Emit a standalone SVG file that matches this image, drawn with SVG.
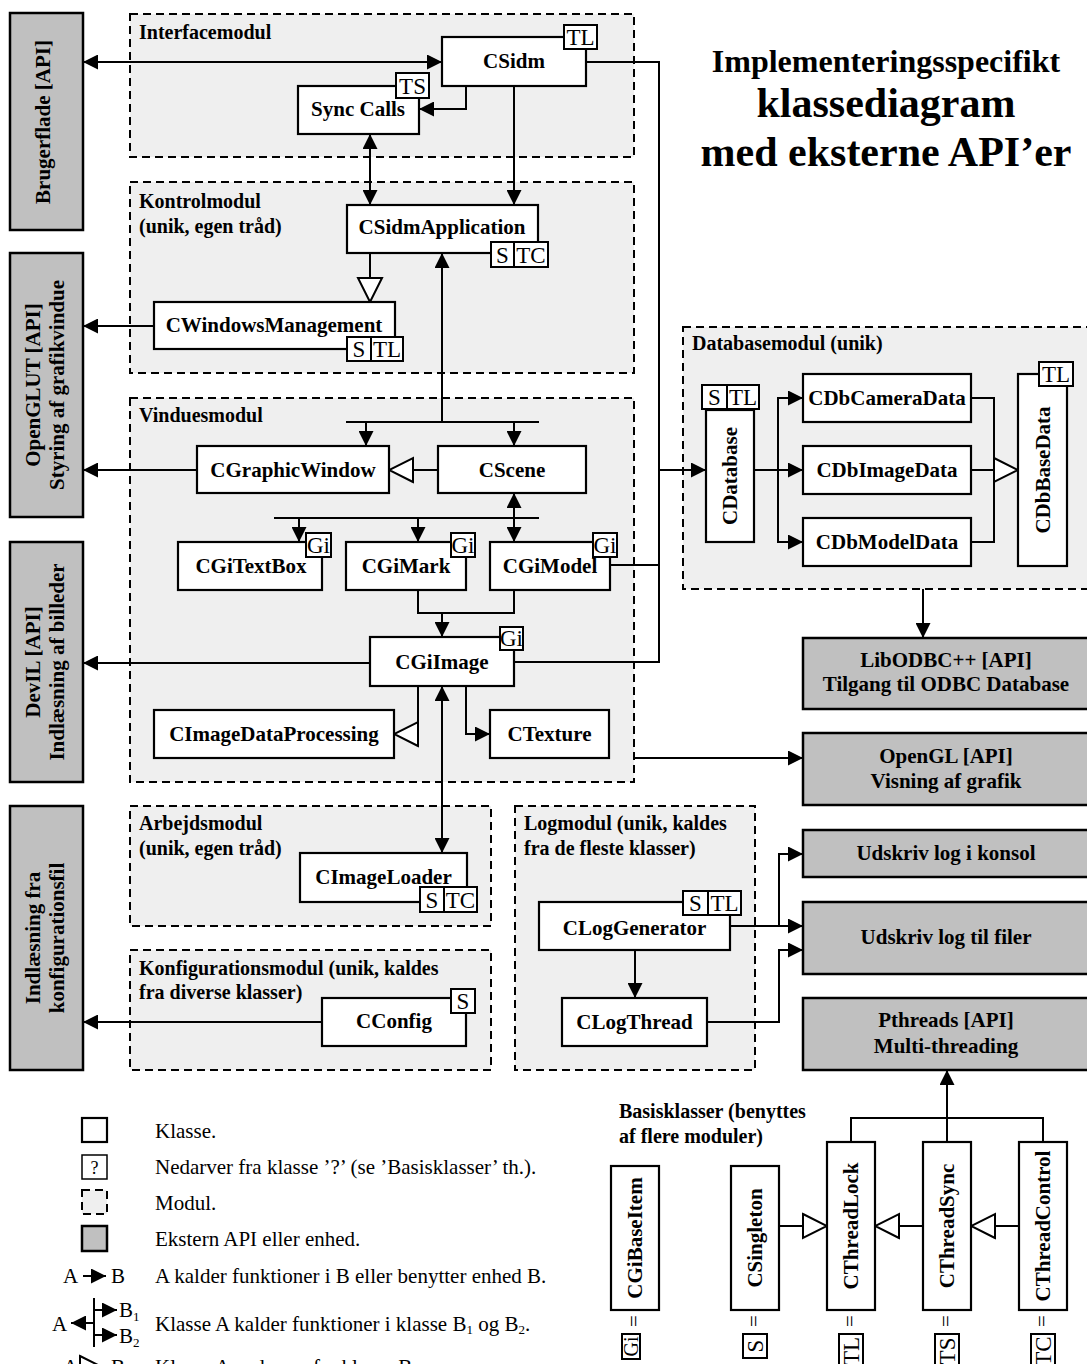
<svg xmlns="http://www.w3.org/2000/svg" width="1087" height="1364" viewBox="0 0 1087 1364">
<style>
.mod{fill:#efefef;stroke:#000;stroke-width:2;stroke-dasharray:8 5}
.cls{fill:#fff;stroke:#000;stroke-width:2.2}
.api{fill:#c0c0c0;stroke:#000;stroke-width:2.5}
.tag{fill:#fff;stroke:#000;stroke-width:2}
.ln{fill:none;stroke:#000;stroke-width:2}
text{font-family:"Liberation Serif","Times New Roman",serif;fill:#000}
.b{font-weight:bold;font-size:21px}
.mt{font-weight:bold;font-size:20px}
.r{font-size:21px}
.t{font-size:23px}
.c{text-anchor:middle}
</style>
<defs>
<marker id="ah" viewBox="0 0 15 15" refX="15" refY="7.5" markerWidth="15" markerHeight="15" markerUnits="userSpaceOnUse" orient="auto-start-reverse"><path d="M0,0 L15,7.5 L0,15 z" fill="#000"/></marker>
<marker id="tri" viewBox="-2 -2 28 28" refX="24" refY="12" markerWidth="28" markerHeight="28" markerUnits="userSpaceOnUse" orient="auto"><path d="M0,0 L24,12 L0,24 z" fill="#fff" stroke="#000" stroke-width="2"/></marker>
</defs>
<rect width="1087" height="1364" fill="#fff"/>

<g id="modules">
<g id="mod-interface"><rect class="mod" x="130" y="14" width="504" height="143"/><text class="mt" x="139" y="39">Interfacemodul</text></g>
<g id="mod-kontrol"><rect class="mod" x="130" y="182" width="504" height="191"/><text class="mt" x="139" y="208">Kontrolmodul</text><text class="mt" x="139" y="233">(unik, egen tråd)</text></g>
<g id="mod-vindues"><rect class="mod" x="130" y="398" width="504" height="384"/><text class="mt" x="139" y="422">Vinduesmodul</text></g>
<g id="mod-database"><rect class="mod" x="683" y="327" width="410" height="262"/><text class="mt" x="692" y="350">Databasemodul (unik)</text></g>
<g id="mod-arbejds"><rect class="mod" x="130" y="806" width="361" height="120"/><text class="mt" x="139" y="830">Arbejdsmodul</text><text class="mt" x="139" y="855">(unik, egen tråd)</text></g>
<g id="mod-konfig"><rect class="mod" x="130" y="950" width="361" height="120"/><text class="mt" x="139" y="975">Konfigurationsmodul (unik, kaldes</text><text class="mt" x="139" y="999">fra diverse klasser)</text></g>
<g id="mod-log"><rect class="mod" x="515" y="806" width="240" height="264"/><text class="mt" x="524" y="830">Logmodul (unik, kaldes</text><text class="mt" x="524" y="855">fra de fleste klasser)</text></g>
</g>

<g id="title">
<text class="c" x="886" y="72" font-weight="bold" font-size="32">Implementeringsspecifikt</text>
<text class="c" x="886" y="117" font-weight="bold" font-size="42">klassediagram</text>
<text class="c" x="886" y="166" font-weight="bold" font-size="42">med eksterne API’er</text>
</g>

<g id="connectors">
<path class="ln" d="M83,62 H442" marker-start="url(#ah)" marker-end="url(#ah)"/>
<path class="ln" d="M466,86 V109 H419" marker-end="url(#ah)"/>
<path class="ln" d="M514,86 V205" marker-end="url(#ah)"/>
<path class="ln" d="M370,134 V205" marker-start="url(#ah)" marker-end="url(#ah)"/>
<path class="ln" d="M586,62 H659 V662 H514"/>
<path class="ln" d="M610,565 H659"/>
<path class="ln" d="M659,470 H706" marker-end="url(#ah)"/>
<path class="ln" d="M370,253 V302" marker-end="url(#tri)"/>
<path class="ln" d="M154,326 H83" marker-end="url(#ah)"/>
<path class="ln" d="M346,422 H539"/>
<path class="ln" d="M442,422 V253" marker-end="url(#ah)"/>
<path class="ln" d="M366,422 V446" marker-end="url(#ah)"/>
<path class="ln" d="M514,422 V446" marker-end="url(#ah)"/>
<path class="ln" d="M438,470 H389" marker-end="url(#tri)"/>
<path class="ln" d="M197,470 H83" marker-end="url(#ah)"/>
<path class="ln" d="M274,518 H539"/>
<path class="ln" d="M299,518 V542" marker-end="url(#ah)"/>
<path class="ln" d="M418,518 V542" marker-end="url(#ah)"/>
<path class="ln" d="M514,493 V542" marker-start="url(#ah)" marker-end="url(#ah)"/>
<path class="ln" d="M418,590 V613 H514 V590"/>
<path class="ln" d="M442,613 V637" marker-end="url(#ah)"/>
<path class="ln" d="M370,663 H83" marker-end="url(#ah)"/>
<path class="ln" d="M418,686 V734 H394" marker-end="url(#tri)"/>
<path class="ln" d="M466,686 V734 H490" marker-end="url(#ah)"/>
<path class="ln" d="M442,686 V853" marker-start="url(#ah)" marker-end="url(#ah)"/>
<path class="ln" d="M634,758 H803" marker-end="url(#ah)"/>
<path class="ln" d="M754,470 H803" marker-end="url(#ah)"/>
<path class="ln" d="M778,470 V398 H803" marker-end="url(#ah)"/>
<path class="ln" d="M778,470 V542 H803" marker-end="url(#ah)"/>
<path class="ln" d="M971,398 H994 V542 H971"/>
<path class="ln" d="M971,470 H1018" marker-end="url(#tri)"/>
<path class="ln" d="M923,589 V638" marker-end="url(#ah)"/>
<path class="ln" d="M322,1022 H83" marker-end="url(#ah)"/>
<path class="ln" d="M730,926 H803" marker-end="url(#ah)"/>
<path class="ln" d="M779,926 V854 H803" marker-end="url(#ah)"/>
<path class="ln" d="M707,1022 H779 V950 H803" marker-end="url(#ah)"/>
<path class="ln" d="M635,950 V998" marker-end="url(#ah)"/>
<path class="ln" d="M851,1142 V1118 H1043 V1142"/>
<path class="ln" d="M947,1142 V1070" marker-end="url(#ah)"/>
<path class="ln" d="M779,1226 H827" marker-end="url(#tri)"/>
<path class="ln" d="M923,1226 H875" marker-end="url(#tri)"/>
<path class="ln" d="M1019,1226 H971" marker-end="url(#tri)"/>
</g>

<g id="api-brugerflade"><rect class="api" x="10" y="13" width="73" height="217"/><text class="b c" transform="translate(50,122) rotate(-90)">Brugerflade [API]</text></g>
<g id="api-openglut"><rect class="api" x="10" y="253" width="73" height="264"/><text class="b c" transform="translate(40,385) rotate(-90)">OpenGLUT  [API]</text><text class="b c" transform="translate(64,385) rotate(-90)">Styring af grafikvindue</text></g>
<g id="api-devil"><rect class="api" x="10" y="542" width="73" height="240"/><text class="b c" transform="translate(40,662) rotate(-90)">DevIL [API]</text><text class="b c" transform="translate(64,662) rotate(-90)">Indlæsning af billeder</text></g>
<g id="api-konfigfil"><rect class="api" x="10" y="806" width="73" height="264"/><text class="b c" transform="translate(40,938) rotate(-90)">Indlæsning fra</text><text class="b c" transform="translate(64,938) rotate(-90)">konfigurationsfil</text></g>
<g id="api-libodbc"><rect class="api" x="803" y="638" width="290" height="71"/><text class="b c" x="946" y="667">LibODBC++ [API]</text><text class="b c" x="946" y="691">Tilgang til ODBC Database</text></g>
<g id="api-opengl"><rect class="api" x="803" y="733" width="290" height="72"/><text class="b c" x="946" y="763">OpenGL [API]</text><text class="b c" x="946" y="788">Visning af grafik</text></g>
<g id="api-konsol"><rect class="api" x="803" y="830" width="290" height="47"/><text class="b c" x="946" y="860">Udskriv log i konsol</text></g>
<g id="api-filer"><rect class="api" x="803" y="902" width="290" height="72"/><text class="b c" x="946" y="944">Udskriv log til filer</text></g>
<g id="api-pthreads"><rect class="api" x="803" y="998" width="290" height="72"/><text class="b c" x="946" y="1027">Pthreads [API]</text><text class="b c" x="946" y="1053">Multi-threading</text></g>

<g id="CSidm"><rect class="cls" x="442" y="37" width="144" height="49"/><text class="b c" x="514" y="68">CSidm</text><rect class="tag" x="564" y="25" width="33" height="24"/><text class="t c" x="580.5" y="45">TL</text></g>
<g id="SyncCalls"><rect class="cls" x="298" y="86" width="121" height="48"/><text class="b c" x="358" y="116">Sync Calls</text><rect class="tag" x="396" y="73" width="33" height="25"/><text class="t c" x="412.5" y="94">TS</text></g>
<g id="CSidmApplication"><rect class="cls" x="347" y="205" width="191" height="48"/><text class="b c" x="442" y="234">CSidmApplication</text><rect class="tag" x="491" y="242" width="23" height="25"/><rect class="tag" x="514" y="242" width="34" height="25"/><text class="t c" x="502.5" y="263">S</text><text class="t c" x="531" y="263">TC</text></g>
<g id="CWindowsManagement"><rect class="cls" x="154" y="302" width="241" height="47"/><text class="b c" x="274" y="332">CWindowsManagement</text><rect class="tag" x="347" y="337" width="24" height="24"/><rect class="tag" x="371" y="337" width="32" height="24"/><text class="t c" x="359" y="357">S</text><text class="t c" x="387" y="357">TL</text></g>
<g id="CGraphicWindow"><rect class="cls" x="197" y="446" width="192" height="47"/><text class="b c" x="293" y="477">CGraphicWindow</text></g>
<g id="CScene"><rect class="cls" x="438" y="446" width="148" height="47"/><text class="b c" x="512" y="477">CScene</text></g>
<g id="CGiTextBox"><rect class="cls" x="178" y="542" width="144" height="48"/><text class="b c" x="251" y="573">CGiTextBox</text><rect class="tag" x="306" y="533" width="25" height="24"/><text class="t c" x="318.5" y="553">Gi</text></g>
<g id="CGiMark"><rect class="cls" x="346" y="542" width="120" height="48"/><text class="b c" x="406" y="573">CGiMark</text><rect class="tag" x="451" y="533" width="24" height="24"/><text class="t c" x="463" y="553">Gi</text></g>
<g id="CGiModel"><rect class="cls" x="490" y="542" width="120" height="48"/><text class="b c" x="550" y="573">CGiModel</text><rect class="tag" x="593" y="533" width="24" height="24"/><text class="t c" x="605" y="553">Gi</text></g>
<g id="CGiImage"><rect class="cls" x="370" y="637" width="144" height="49"/><text class="b c" x="442" y="669">CGiImage</text><rect class="tag" x="500" y="627" width="23" height="23"/><text class="t c" x="511.5" y="646">Gi</text></g>
<g id="CImageDataProcessing"><rect class="cls" x="154" y="710" width="240" height="48"/><text class="b c" x="274" y="741">CImageDataProcessing</text></g>
<g id="CTexture"><rect class="cls" x="490" y="710" width="119" height="48"/><text class="b c" x="549.5" y="741">CTexture</text></g>
<g id="CImageLoader"><rect class="cls" x="300" y="853" width="167" height="49"/><text class="b c" x="383.5" y="884">CImageLoader</text><rect class="tag" x="420" y="887" width="24" height="25"/><rect class="tag" x="444" y="887" width="33" height="25"/><text class="t c" x="432" y="908">S</text><text class="t c" x="460.5" y="908">TC</text></g>
<g id="CConfig"><rect class="cls" x="322" y="998" width="144" height="48"/><text class="b c" x="394" y="1028">CConfig</text><rect class="tag" x="451" y="989" width="24" height="24"/><text class="t c" x="463" y="1009">S</text></g>
<g id="CLogGenerator"><rect class="cls" x="539" y="902" width="191" height="48"/><text class="b c" x="634.5" y="935">CLogGenerator</text><rect class="tag" x="683" y="891" width="25" height="24"/><rect class="tag" x="708" y="891" width="33" height="24"/><text class="t c" x="695.5" y="911">S</text><text class="t c" x="724.5" y="911">TL</text></g>
<g id="CLogThread"><rect class="cls" x="562" y="998" width="145" height="48"/><text class="b c" x="634.5" y="1029">CLogThread</text></g>
<g id="CDatabase"><rect class="cls" x="706" y="410" width="48" height="132"/><text class="b c" transform="translate(737,476) rotate(-90)">CDatabase</text><rect class="tag" x="702" y="385" width="25" height="24"/><rect class="tag" x="727" y="385" width="32" height="24"/><text class="t c" x="714.5" y="405">S</text><text class="t c" x="743" y="405">TL</text></g>
<g id="CDbCameraData"><rect class="cls" x="803" y="374" width="168" height="48"/><text class="b c" x="887" y="405">CDbCameraData</text></g>
<g id="CDbImageData"><rect class="cls" x="803" y="446" width="168" height="48"/><text class="b c" x="887" y="477">CDbImageData</text></g>
<g id="CDbModelData"><rect class="cls" x="803" y="518" width="168" height="48"/><text class="b c" x="887" y="549">CDbModelData</text></g>
<g id="CDbBaseData"><rect class="cls" x="1018" y="374" width="49" height="192"/><text class="b c" transform="translate(1050,470) rotate(-90)">CDbBaseData</text><rect class="tag" x="1039" y="362" width="34" height="24"/><text class="t c" x="1056" y="382">TL</text></g>

<g id="basisklasser-label"><text class="mt" x="619" y="1118">Basisklasser (benyttes</text><text class="mt" x="619" y="1143">af flere moduler)</text></g>
<g id="CGiBaseItem"><rect class="cls" x="611" y="1166" width="48" height="144"/><text class="b c" transform="translate(642,1238) rotate(-90)">CGiBaseItem</text><text class="r c" transform="translate(641,1321) rotate(-90)">=</text><rect class="tag" x="622" y="1334" width="18" height="25"/><text class="c" font-size="20" transform="translate(638,1346.5) rotate(-90)">Gi</text></g>
<g id="CSingleton"><rect class="cls" x="731" y="1166" width="48" height="144"/><text class="b c" transform="translate(762,1238) rotate(-90)">CSingleton</text><text class="r c" transform="translate(761,1321) rotate(-90)">=</text><rect class="tag" x="743" y="1334" width="24" height="24"/><text class="t c" transform="translate(763,1346) rotate(-90)">S</text></g>
<g id="CThreadLock"><rect class="cls" x="827" y="1142" width="48" height="168"/><text class="b c" transform="translate(858,1226) rotate(-90)">CThreadLock</text><text class="r c" transform="translate(857,1321) rotate(-90)">=</text><rect class="tag" x="839" y="1334" width="24" height="34"/><text class="t c" transform="translate(859,1351) rotate(-90)">TL</text></g>
<g id="CThreadSync"><rect class="cls" x="923" y="1142" width="48" height="168"/><text class="b c" transform="translate(954,1226) rotate(-90)">CThreadSync</text><text class="r c" transform="translate(953,1321) rotate(-90)">=</text><rect class="tag" x="935" y="1334" width="24" height="34"/><text class="t c" transform="translate(955,1351) rotate(-90)">TS</text></g>
<g id="CThreadControl"><rect class="cls" x="1019" y="1142" width="48" height="168"/><text class="b c" transform="translate(1050,1226) rotate(-90)">CThreadControl</text><text class="r c" transform="translate(1049,1321) rotate(-90)">=</text><rect class="tag" x="1031" y="1334" width="24" height="34"/><text class="t c" transform="translate(1051,1351) rotate(-90)">TC</text></g>

<g id="legend">
<rect class="cls" x="82" y="1118" width="25" height="24"/><text class="r" x="155" y="1138">Klasse.</text>
<rect x="82" y="1155" width="25" height="24" fill="#fff" stroke="#000" stroke-width="1.5"/><text class="c" font-size="18" x="94.5" y="1174">?</text><text class="r" x="155" y="1174">Nedarver fra klasse ’?’ (se ’Basisklasser’ th.).</text>
<rect class="mod" x="82" y="1190" width="25" height="24"/><text class="r" x="155" y="1210">Modul.</text>
<rect class="api" x="82" y="1226" width="25" height="25"/><text class="r" x="155" y="1246">Ekstern API eller enhed.</text>
<text class="r" x="63" y="1283">A</text><path class="ln" d="M83,1276 H106" marker-end="url(#ah)"/><text class="r" x="111" y="1283">B</text><text class="r" x="155" y="1283">A kalder funktioner i B eller benytter enhed B.</text>
<text class="r" x="52" y="1331">A</text>
<path class="ln" d="M94,1298 V1347"/>
<path class="ln" d="M94,1323 H71" marker-end="url(#ah)"/>
<path class="ln" d="M94,1310 H117" marker-end="url(#ah)"/>
<path class="ln" d="M94,1335 H117" marker-end="url(#ah)"/>
<text class="r" x="119" y="1317">B<tspan font-size="13" dy="4">1</tspan></text>
<text class="r" x="119" y="1343">B<tspan font-size="13" dy="4">2</tspan></text>
<text class="r" x="155" y="1331">Klasse A kalder funktioner i klasse B<tspan font-size="13" dy="3">1</tspan><tspan dy="-3"> og B</tspan><tspan font-size="13" dy="3">2</tspan><tspan dy="-3">.</tspan></text>
<text class="r" x="63" y="1374">A</text><path class="ln" d="M78,1368 H104" marker-end="url(#tri)"/><text class="r" x="111" y="1374">B</text><text class="r" x="155" y="1374">Klasse A nedarver fra klasse B.</text>
</g>
</svg>
